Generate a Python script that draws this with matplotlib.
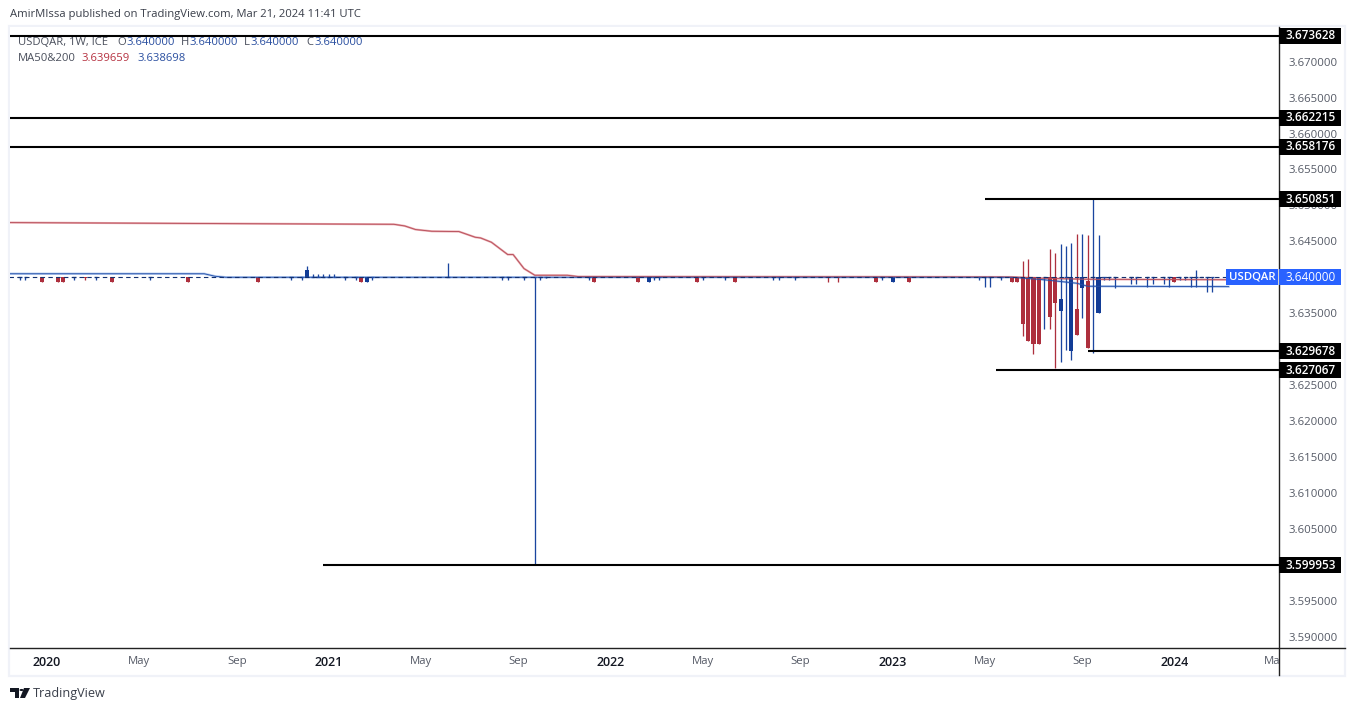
import matplotlib
matplotlib.use("Agg")
import matplotlib.pyplot as plt
from matplotlib.patches import Rectangle, Polygon, Circle
from matplotlib.lines import Line2D
from matplotlib.transforms import Bbox

W, H = 1355, 711
FONT = "Open Sans"
plt.rcParams["font.family"] = [FONT, "DejaVu Sans"]

# ---- data (week index, week 0 = first week of January 2020) ----
base = 3.64
weeks = [-5,-4,-1,2,3,5,7,9,12,19,26,39,45,47,48,49,50,51,52,53,55,57,58,59,60,
         74,84,85,88,90,91,92,100,101,109,111,112,113,120,121,125,127,134,135,138,
         144,146,153,154,156,159,172,173,174,176,178,179,
         180,181,182,183,184,185,186,187,188,189,190,191,192,193,194,195,196,197,
         200,201,203,204,206,207,208,209,210,211,212,213,214,215,218]
opens = [3.64,3.64,3.64,3.64,3.64,3.64,3.64,3.64,3.64,3.64,3.64,3.64,3.64,3.64,3.64,3.64,3.64,3.64,3.64,3.64,3.64,3.64,3.64,3.6393,3.64,
         3.64,3.64,3.64,3.64,3.64,3.64,3.64,3.64,3.64,3.64,3.6393,3.64,3.64,3.64,3.64,3.64,3.64,3.64,3.64,3.64,
         3.64,3.64,3.64,3.64,3.6393,3.64,3.64,3.64,3.64,3.64,3.64,3.64,
         3.64,3.64,3.64,3.64,3.64,3.64,3.64,3.63527,3.64,3.6297,3.63555,3.63847,3.63944,3.64,3.63499,3.64,3.64,3.64,
         3.64,3.64,3.64,3.64,3.64,3.64,3.64,3.64,3.64,3.64,3.64,3.64,3.64,3.64,3.62985]
highs = [3.64]*14 + [3.64153,3.64042,3.64042,3.64042,3.64042,3.64042] + [3.64]*5 + \
        [3.64195,3.64,3.64,3.64,3.64] + [3.64]*15 + \
        [3.64]*12 + \
        [3.64223,3.6426,3.64,3.64,3.64,3.6439,3.64334,3.64459,3.64431,3.64473,3.64598,3.64598,3.64584,3.650851,3.64584,3.64,3.64,3.64] + \
        [3.64]*10 + [3.64097,3.64,3.64,3.64]
lows = [3.63958,3.63958,3.6393,3.6393,3.6393,3.63958,3.63958,3.63958,3.6393,3.63958,3.6393,3.6393,3.63958,3.63958,3.64,3.64,3.64,3.64,3.64,3.64,3.63958,3.63958,3.6393,3.6393,3.63958,
        3.64,3.63958,3.63958,3.63958,3.599953,3.63958,3.63985,3.63958,3.6393,3.6393,3.6393,3.63958,3.63958,3.6393,3.63958,3.63958,3.6393,3.63958,3.63958,3.63958,
        3.6393,3.6393,3.6393,3.63958,3.6393,3.6393,3.63958,3.6386,3.6386,3.63958,3.6393,3.6393,
        3.63183,3.63114,3.62933,3.63072,3.63277,3.63277,3.62738,3.62822,3.62984,3.62845,3.63193,3.6343,3.63012,3.62952,3.63499,3.63958,3.63958,3.63847,
        3.63903,3.63903,3.6386,3.63903,3.63903,3.6386,3.6393,3.63958,3.63958,3.6386,3.6386,3.64,3.63791,3.63791,3.62985]
closes = [3.64,3.64,3.6393,3.6393,3.6393,3.64,3.63995,3.64,3.6393,3.64,3.6393,3.6393,3.64,3.64,3.64097,3.64,3.64,3.64,3.64,3.64,3.64,3.64,3.6393,3.64,3.64,
          3.64,3.64,3.64,3.64,3.64,3.64,3.64,3.64,3.6393,3.6393,3.64,3.64,3.64,3.6393,3.64,3.64,3.6393,3.64,3.64,3.64,
          3.63995,3.63995,3.6393,3.64,3.64,3.6393,3.64,3.64,3.64,3.64,3.6393,3.6393,
          3.6335,3.63114,3.63072,3.63072,3.64,3.63443,3.63638,3.63694,3.64,3.64,3.63193,3.64,3.63012,3.64,3.64,3.64,3.64,3.64,
          3.64,3.64,3.64,3.64,3.64,3.64,3.6393,3.64,3.64,3.64,3.64,3.64,3.64,3.64,3.64]

ma200_weeks = [-7,32,64,66,68,71,76,79,80,82,85,86,88,90,96,98,150,178,184,192,218]
ma200_vals = [3.64761,3.64747,3.64737,3.64714,3.64664,3.6464,3.64636,3.64557,3.64547,3.64487,3.64316,3.64316,3.64121,3.64028,3.64028,3.6401,3.64007,3.64004,3.63986,3.63972,3.639659]
ma50_weeks = [-7,29,31,33,178,184,190,192,218]
ma50_vals = [3.64049,3.64049,3.64014,3.64,3.64,3.63965,3.63917,3.63875,3.638698]

level_starts = [None,None,None,173,192,175,51]
level_vals = [3.673628,3.662215,3.658176,3.650851,3.629678,3.627067,3.599953]

# 3.640000, 3.630000 and 3.600000 are hidden behind tags in the reference
ytick_vals = [3.67,3.665,3.66,3.655,3.65,3.645,3.635,3.625,3.62,3.615,3.61,3.605,3.595,3.59]
xtick_weeks = [0,17,35,52,69,87,104,121,139,156,173,191,208,226.5]
xtick_labels = ["2020","May","Sep","2021","May","Sep","2022","May","Sep","2023","May","Sep","2024","May"]

RED, BLUE = "#ad2f3d", "#1a459f"
WICK = 1.3 * 72 / 100

# ---- layout ----
fig = plt.figure(figsize=(W/100, H/100), dpi=100, facecolor="white")
ax = fig.add_axes([10/W, (H-648)/H, 1269/W, 621/H])
ax.set_xlim(-6.83, 227.3)
ax.set_ylim(3.58842, 3.67482)
for s in ax.spines.values():
    s.set_visible(False)

def fx(x): return x / W
def fy(y): return 1 - y / H

# frame and axis lines
fig.add_artist(Rectangle((fx(9), fy(676)), 1336/W, 650/H, fc="none", ec="#f0f2f8", lw=1.6, zorder=-1))
fig.add_artist(Line2D([fx(10), fx(1345)], [fy(648), fy(648)], color="#222222", lw=1.0, zorder=2))
fig.add_artist(Line2D([fx(1279), fx(1279)], [fy(27), fy(675)], color="#222222", lw=1.0, zorder=2))

# ---- candles ----
for w, o, h, l, c in zip(weeks, opens, highs, lows, closes):
    col = RED if c < o else BLUE
    ax.vlines(w, l, h, color=col, lw=WICK, zorder=3)
    if abs(c - o) > 1e-5:
        b = min(o, c)
        ax.bar(w, abs(c - o), bottom=b, width=0.75, color="#123c96" if col == BLUE else col, lw=0, zorder=3)
    else:
        ax.hlines(o, w - 0.3, w + 0.3, color=col, lw=WICK, zorder=3)

# ---- moving averages and price line ----
ax.plot(ma50_weeks, ma50_vals, color="#b4cbf0", lw=1.7, zorder=2)
ax.plot(ma200_weeks, ma200_vals, color="#e8a9ae", lw=1.5, zorder=2)
ax.plot(ma200_weeks, ma200_vals, color="#b8505c", lw=0.65, zorder=4)
ax.plot(ma50_weeks, ma50_vals, color="#2450a8", lw=0.65, zorder=4)
ax.plot([-7, 218], [base, base], color="#12306f", lw=0.8, ls=(0, (4, 3)), zorder=4)

# ---- horizontal levels ----
for s, v in zip(level_starts, level_vals):
    ax.hlines(v, ax.get_xlim()[0] if s is None else s, ax.get_xlim()[1], color="black", lw=1.5, zorder=5)

# ---- ticks ----
ax.yaxis.tick_right()
ax.set_yticks(ytick_vals, [f"{v:.6f}" for v in ytick_vals])
ax.tick_params(axis="y", length=0, pad=6.6, labelsize=8.2, labelcolor="#555a66")
ax.set_xticks(xtick_weeks, xtick_labels)
ax.tick_params(axis="x", length=0, pad=6.0, labelsize=8.2)
clip = Bbox([[0, 0], [1279, H]])
for t, lab in zip(ax.get_xticklabels(), xtick_labels):
    year = lab.isdigit()
    t.set_color("#131722" if year else "#555a66")
    t.set_fontweight("semibold" if year else "normal")
    t.set_fontsize(9.0 if year else 8.2)
    t.set_clip_box(clip)
    t.set_clip_on(True)

# ---- axis tags ----
def tag(x0, x1, val, text, fc, weight="normal", size=8.5):
    yc = H - ax.transData.transform((0, val))[1]
    fig.add_artist(Rectangle((fx(x0), fy(yc + 8)), (x1 - x0)/W, 16/H, fc=fc, ec="none", zorder=6))
    fig.text(fx((x0 + x1)/2 + 0.5), fy(yc), text, color="white", fontsize=size, fontweight=weight,
             ha="center", va="center", zorder=7)

for v in level_vals:
    tag(1279, 1341, v, f"{v:.6f}", "black", "semibold")
tag(1279, 1341, base, "3.640000", "#2962ff")
tag(1226, 1278, base, "USDQAR", "#2962ff", "semibold", 8.2)

# ---- header and legend ----
fig.text(fx(10), fy(15), "AmirMIssa published on TradingView.com, Mar 21, 2024 11:41 UTC",
         fontsize=8.15, color="#3a3f4a", va="center")
GREY, VBLUE, VRED = "#4a4f5c", "#2a4fa0", "#b5303f"
legend = [(18, 42.5, "USDQAR, 1W, ICE", GREY),
          (117, 42.5, "O", GREY), (126, 42.5, "3.640000", VBLUE),
          (181, 42.5, "H", GREY), (189, 42.5, "3.640000", VBLUE),
          (244, 42.5, "L", GREY), (250, 42.5, "3.640000", VBLUE),
          (306, 42.5, "C", GREY), (314, 42.5, "3.640000", VBLUE),
          (18, 58.5, "MA50&200", GREY), (81, 58.5, "3.639659", VRED), (137, 58.5, "3.638698", VBLUE)]
for x, y, s, c in legend:
    fig.text(fx(x), fy(y), s, fontsize=8.15, color=c, va="center", zorder=8)

# ---- TradingView logo and name ----
def poly(pts, c="#131722"):
    fig.add_artist(Polygon([(fx(a), fy(b)) for a, b in pts], closed=True, fc=c, ec="none", zorder=6))

poly([(10, 688), (19, 688), (19, 698), (15, 698), (15, 692), (10, 692)])
fig.add_artist(Circle((fx(21.5), fy(690)), 2/W, fc="#131722", ec="none", zorder=6))
poly([(24, 688), (30, 688), (25, 698), (20, 698)])
fig.text(fx(33), fy(693), "TradingView", fontsize=9.1, color="#3a3f4a", va="center")

fig.savefig("out.png", dpi=100, facecolor="white")
